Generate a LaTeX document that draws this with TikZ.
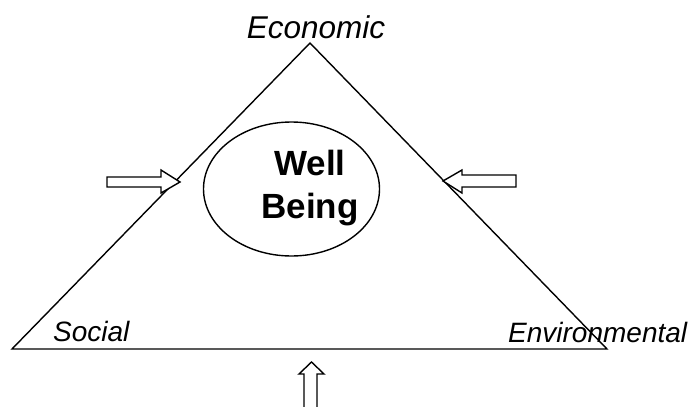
\documentclass[tikz,border=0pt]{standalone}
\usepackage{fontspec}
\setmainfont{Liberation Sans}
\usetikzlibrary{shapes.geometric}
\begin{document}
\begin{tikzpicture}[x=1pt,y=-1pt,
  edge/.style={draw=black,line width=1.4pt,line join=miter},
  blockarrow/.style={draw=black,fill=white,line width=1.4pt,line join=miter},
  corner/.style={font=\fontsize{28}{34}\selectfont\itshape,inner sep=0pt},
  wb/.style={font=\fontsize{35}{43}\selectfont\bfseries,align=center,inner sep=0pt}]
\useasboundingbox (0,0) rectangle (697,407);
% triangle
\coordinate (apex) at (310,43);
\coordinate (bl) at (12,349);
\coordinate (br) at (607,349);
\draw[edge] (apex) -- (bl) -- (br) -- cycle;
% ellipse
\node[ellipse,draw=black,line width=1.4pt,minimum width=176pt,minimum height=134pt,inner sep=0pt] (wbell) at (291.5,189) {};
\node[wb] (wbtext) at (310,188) {Well\\Being};
% labels
\node[corner,font=\fontsize{31.5}{36}\selectfont\itshape,anchor=base] (econ) at (316,38) {Economic};
\node[corner,anchor=base west] (social) at (53,341) {Social};
\node[corner,anchor=base west] (env) at (508,342) {Environmental};
% left arrow
\coordinate (la) at (180,182);
\draw[blockarrow] (la) -- (161,170) -- (161,177) -- (107,177) -- (107,187) -- (161,187) -- (161,193) -- cycle;
% right arrow
\coordinate (ra) at (443,181);
\draw[blockarrow] (ra) -- (462,170) -- (462,175) -- (516,175) -- (516,187) -- (462,187) -- (462,193) -- cycle;
% bottom arrow
\coordinate (ba) at (311.5,362);
\draw[blockarrow] (ba) -- (324,374) -- (317,374) -- (317,412) -- (304,412) -- (304,374) -- (299,374) -- cycle;
\end{tikzpicture}
\end{document}
